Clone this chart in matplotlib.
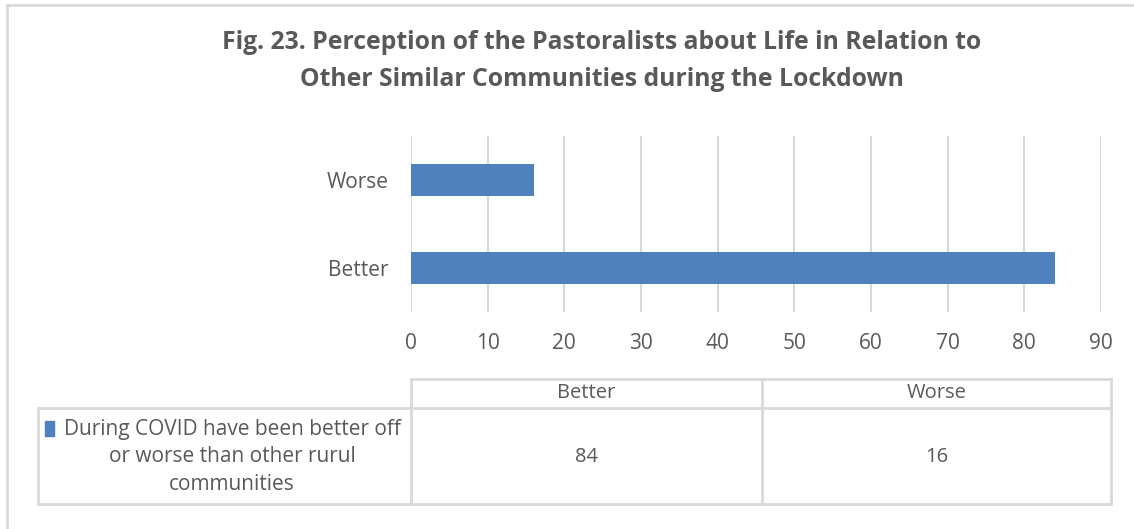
import matplotlib.pyplot as plt

categories = ["Better", "Worse"]
values = [84, 16]
series_name = "During COVID have been better off\nor worse than other rurul\ncommunities"
title = ("Fig. 23. Perception of the Pastoralists about Life in Relation to\n"
         "Other Similar Communities during the Lockdown")

bar_color = "#4f81bd"
text_color = "#595959"
line_color = "#d9d9d9"

plt.rcParams["font.family"] = ["Open Sans", "DejaVu Sans"]

W, H = 1134, 529
fig = plt.figure(figsize=(W / 100, H / 100), dpi=100)

# bar chart area (pixel box -> figure fraction)
left, right, top, bottom = 411, 1101, 136, 312
ax = fig.add_axes([left / W, 1 - bottom / H, (right - left) / W, (bottom - top) / H])
ypos = range(len(categories))
ax.barh(ypos, values, height=0.36, color=bar_color, zorder=3)
ax.set_xlim(0, 90)
ax.set_ylim(-0.5, 1.5)
ax.set_xticks(range(0, 91, 10))
ax.set_yticks(list(ypos))
ax.set_yticklabels(categories)
ax.grid(axis="x", color=line_color, linewidth=1.5, zorder=0)
for s in ax.spines.values():
    s.set_visible(False)
ax.tick_params(length=0, labelsize=15, labelcolor=text_color)
ax.tick_params(axis="x", pad=15)
ax.tick_params(axis="y", pad=16)

# overlay in pixel coordinates for title, frame and data table
ov = fig.add_axes([0, 0, 1, 1], zorder=-1)
ov.set_xlim(0, W)
ov.set_ylim(H, 0)
ov.axis("off")

ov.text(W / 2 + 35, 61, title, ha="center", va="center", fontsize=17.8,
        fontweight="bold", color=text_color, linespacing=1.6)

# chart frame
ov.plot([7, 7], [5, H], color=line_color, lw=2)
ov.plot([7, W], [5, 5], color=line_color, lw=2)

# data table grid
tl, c1, c2, tr = 38, 411, 762, 1111
ty, hy, by = 379, 408, 504
kw = dict(color=line_color, lw=2, solid_capstyle="projecting")
ov.plot([c1, tr], [ty, ty], **kw)
ov.plot([tl, tr], [hy, hy], **kw)
ov.plot([tl, tr], [by, by], **kw)
ov.plot([tl, tl], [hy, by], **kw)
ov.plot([c1, c1], [ty, by], **kw)
ov.plot([c2, c2], [ty, by], **kw)
ov.plot([tr, tr], [ty, by], **kw)

col_x = [(c1 + c2) / 2, (c2 + tr) / 2]
for cx, cat, val in zip(col_x, categories, values):
    ov.text(cx, (ty + hy) / 2, cat, ha="center", va="center", fontsize=14.5, color=text_color)
    ov.text(cx, (hy + by) / 2 + 1, str(val), ha="center", va="center", fontsize=14.5, color=text_color)

# series label with legend key
ov.add_patch(plt.Rectangle((45, 421), 9, 15, color=bar_color))
ov.text(232, (hy + by) / 2 + 1, series_name, ha="center", va="center", fontsize=15,
        color=text_color, linespacing=1.38)

fig.savefig("out.png", dpi=100, facecolor="white")
